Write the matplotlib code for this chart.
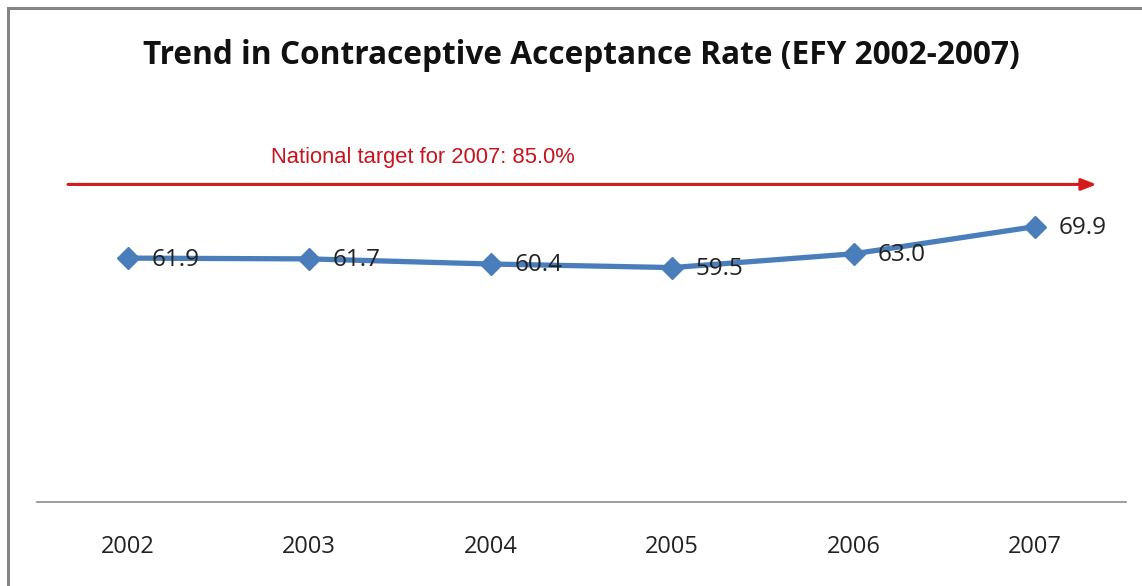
import matplotlib.pyplot as plt
from matplotlib.patches import Rectangle

# Daten
jahre = ['2002', '2003', '2004', '2005', '2006', '2007']
rate = [61.9, 61.7, 60.4, 59.5, 63.0, 69.9]
ziel_text = 'National target for 2007: 85.0%'
titel = 'Trend in Contraceptive Acceptance Rate (EFY 2002-2007)'

fig = plt.figure(figsize=(11.42, 5.86), dpi=100)
ax = fig.add_axes([37 / 1142, 1 - 502 / 586, 1089 / 1142, 394 / 586])

x = list(range(len(jahre)))
ax.plot(x, rate, color='#4A7EBB', linewidth=3.8, marker='D', markersize=11,
        markerfacecolor='#4A7EBB', markeredgecolor='#4A7EBB')

# Datenbeschriftungen rechts neben den Punkten
for xi, yi in zip(x, rate):
    ax.annotate(f'{yi:.1f}', (xi, yi), xytext=(17, -1), textcoords='offset points',
                ha='left', va='center', fontsize=17.5, color='#222222',
                family='Open Sans')

ax.set_xlim(-0.5, len(jahre) - 0.5)
ax.set_ylim(0, 100)
ax.set_xticks(x)
ax.set_xticklabels(jahre, fontsize=17, family='Open Sans', color='#222222')
ax.tick_params(axis='x', length=0, pad=24)
ax.set_yticks([])
for s in ['top', 'left', 'right']:
    ax.spines[s].set_visible(False)
ax.spines['bottom'].set_color('#8C8C8C')
ax.spines['bottom'].set_linewidth(1.2)

# Zielpfeil
ax.annotate('', xy=(0.973, 0.806), xytext=(0.0285, 0.806), xycoords='axes fraction',
            arrowprops=dict(arrowstyle='-|>,head_length=0.9,head_width=0.35',
                            color='#D41A1A', lw=2.2, shrinkA=0, shrinkB=0))
fig.text(271 / 1142, 1 - 157 / 586, ziel_text, ha='left', va='center',
         fontsize=15.8, color='#C8141E', family='Liberation Sans')

# Titel
fig.text(581 / 1142, 1 - 55 / 586, titel, ha='center', va='center',
         fontsize=22.8, fontweight='bold', family='Open Sans', color='#111111')

# Rahmen
fig.patches.append(Rectangle((8 / 1142, -0.1), 1.2, 1.1 - 8 / 586,
                             transform=fig.transFigure, fill=False,
                             edgecolor='#858585', linewidth=2.2))

plt.savefig('out.png')
